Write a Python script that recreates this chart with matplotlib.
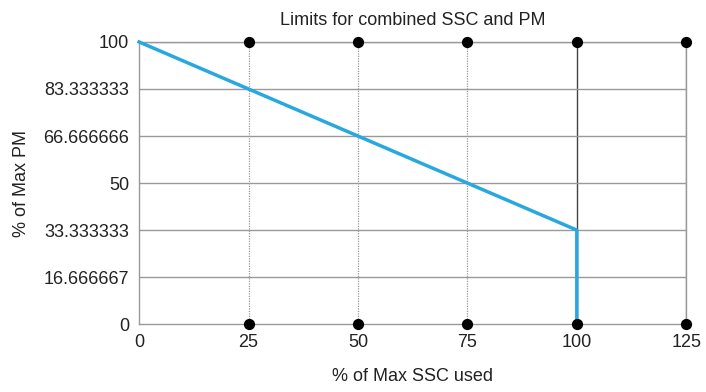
import matplotlib
matplotlib.use("Agg")
import matplotlib.pyplot as plt

plt.rcParams['font.family'] = ['Liberation Sans Narrow', 'Liberation Sans', 'DejaVu Sans']

title = "Limits for combined SSC and PM"
x_label = "% of Max SSC used"
y_label = "% of Max PM"

limit_x = [0, 100, 100]
limit_y = [100, 33.333333, 0]

dot_x = [25, 50, 75, 100, 125]
dot_top_y = [100, 100, 100, 100, 100]
dot_bottom_y = [0, 0, 0, 0, 0]

x_ticks = [0, 25, 50, 75, 100, 125]
y_ticks = [0, 16.666667, 33.333333, 50, 66.666666, 83.333333, 100]
y_tick_labels = ["0", "16.666667", "33.333333", "50", "66.666666", "83.333333", "100"]

fig = plt.figure(figsize=(7.06, 3.92), dpi=100)
ax = fig.add_axes([0.197, 0.173, 0.775, 0.72])

ax.set_xlim(0, 125)
ax.set_ylim(0, 100)
ax.set_xticks(x_ticks)
ax.set_xticklabels([str(v) for v in x_ticks])
ax.set_yticks(y_ticks)
ax.set_yticklabels(y_tick_labels)

for v in x_ticks[1:]:
    if v == 100:
        ax.axvline(v, color='#444444', lw=1.0, zorder=1)
    elif v == 125:
        ax.axvline(v, color='#888888', lw=1.0, zorder=1)
    else:
        ax.axvline(v, color='#999999', lw=0.9, ls=(0, (1, 1)), zorder=1)
for v in y_ticks[1:]:
    ax.axhline(v, color='#999999', lw=1.0, zorder=1)

for s in ax.spines.values():
    s.set_color('#999999')
    s.set_linewidth(1.0)

ax.plot(limit_x, limit_y, color='#29a8e0', lw=2.5, zorder=3, clip_on=False)
ax.scatter(dot_x, dot_top_y, s=50, color='black', zorder=4, clip_on=False)
ax.scatter(dot_x, dot_bottom_y, s=50, color='black', zorder=4, clip_on=False)

ax.tick_params(axis='both', length=0, labelsize=13, colors='#222222', pad=7)
ax.set_title(title, fontsize=13, color='#222222', pad=12)
ax.set_xlabel(x_label, fontsize=13, color='#222222', labelpad=12)
ax.set_ylabel(y_label, fontsize=13, color='#222222', labelpad=10)

fig.savefig("out.png", dpi=100)
